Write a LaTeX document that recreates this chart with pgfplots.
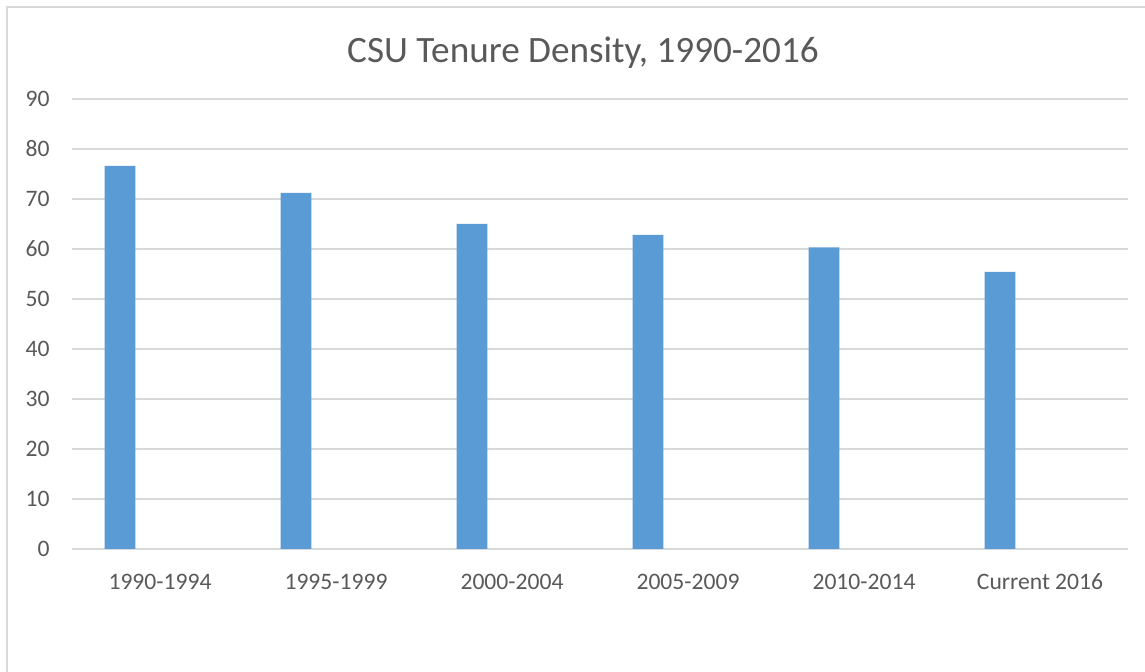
\documentclass[border=0pt]{standalone}
\usepackage{fontspec}
\setmainfont{Carlito}
\usepackage{pgfplots}
\pgfplotsset{compat=1.18}
\definecolor{barblue}{HTML}{5B9BD5}
\definecolor{gridgray}{HTML}{D9D9D9}
\definecolor{txtgray}{HTML}{595959}
\begin{document}
\begin{tikzpicture}
\useasboundingbox (0,0) rectangle (572.5pt,336pt);
\draw[gridgray, line width=0.8pt] (3.5pt,-5pt) -- (3.5pt,332.5pt) -- (580pt,332.5pt);
\begin{axis}[
  at={(36pt,61.5pt)}, anchor=south west,
  width=528pt, height=225pt, scale only axis,
  xmin=-0.5, xmax=5.5, ymin=0, ymax=90,
  ytick={0,10,...,90},
  xtick={0,1,2,3,4,5},
  xticklabels={1990-1994,1995-1999,2000-2004,2005-2009,2010-2014,Current 2016},
  /pgf/number format/assume math mode=true,
  axis line style={draw=none},
  axis x line*=bottom,
  tick style={draw=none},
  ymajorgrids, grid style={gridgray, line width=0.8pt},
  ticklabel style={font=\fontsize{11.8}{14}\selectfont, text=txtgray},
  yticklabel style={inner sep=0pt, xshift=-11pt},
  xticklabel style={inner sep=0pt, yshift=-8pt},
  ybar, bar width=0.174, bar shift=-0.227,
  clip=false,
]
\addplot[fill=barblue, draw=none] coordinates {(0,76.6) (1,71.2) (2,65.0) (3,62.8) (4,60.3) (5,55.4)};
\end{axis}
\node[text=txtgray, font=\fontsize{18.6}{22}\selectfont] at (291.5pt,309.5pt) {CSU Tenure Density, 1990-2016};
\end{tikzpicture}
\end{document}
